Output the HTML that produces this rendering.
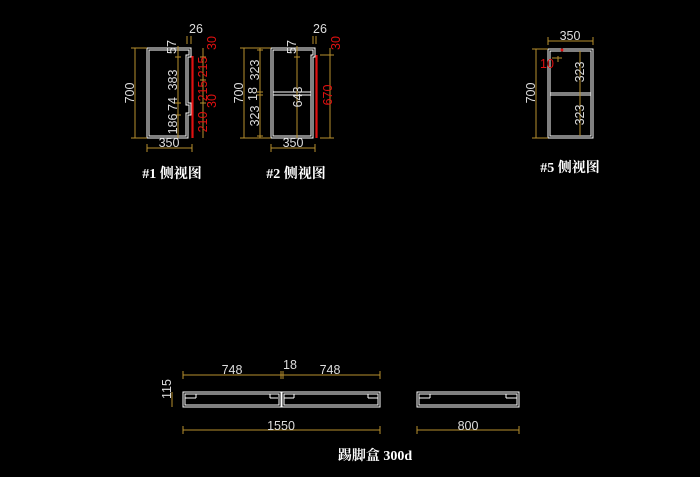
<!DOCTYPE html>
<html><head><meta charset="utf-8"><style>
html,body{margin:0;padding:0;background:#000;}
svg{display:block}
text{font-family:"Liberation Sans","Noto Sans CJK SC",sans-serif;}
.d{stroke:#b8902e;stroke-width:1;fill:none}
.w{stroke:#fff;stroke-width:1;fill:none}
.r{stroke:#e01010;stroke-width:1.2;fill:none}
.t{fill:#ddd;font-size:12.5px}
.rt{fill:#e01010;font-size:12.5px}
.ti{fill:#fff;font-size:14px;font-weight:bold;font-family:"Liberation Serif","Noto Serif CJK SC",serif}
</style></head><body>
<svg width="700" height="477" viewBox="0 0 700 477" xmlns="http://www.w3.org/2000/svg">
<!-- #1 -->
<g>
<path class="w" d="M147,48 H191 V57 H188 V103 H191 V115 H188 V138 H147 Z"/>
<path class="w" d="M149,50 H189 V55 H186 V105 H189 V113 H186 V136 H149 Z"/>
<line class="r" x1="193" y1="56" x2="193" y2="138"/>
<line class="r" x1="192" y1="56" x2="192" y2="138"/>
<line class="d" x1="135" y1="48" x2="135" y2="138"/><line class="d" x1="131" y1="48" x2="147" y2="48"/><line class="d" x1="131" y1="138" x2="147" y2="138"/>
<text class="t" transform="translate(134,93) rotate(-90)" text-anchor="middle">700</text>
<line class="d" x1="147" y1="148" x2="192" y2="148"/><line class="d" x1="147" y1="144" x2="147" y2="152"/><line class="d" x1="192" y1="144" x2="192" y2="152"/>
<text class="t" x="169" y="147" text-anchor="middle">350</text>
<line class="d" x1="178" y1="46" x2="178" y2="138"/>
<g class="d"><line x1="175" y1="57" x2="181" y2="57"/><line x1="175" y1="103" x2="181" y2="103"/><line x1="175" y1="115" x2="181" y2="115"/></g>
<text class="t" transform="translate(176,47) rotate(-90)" text-anchor="middle">57</text>
<text class="t" transform="translate(177,80) rotate(-90)" text-anchor="middle">383</text>
<text class="t" transform="translate(177,104) rotate(-90)" text-anchor="middle">74</text>
<text class="t" transform="translate(177,124) rotate(-90)" text-anchor="middle">186</text>
<line class="d" x1="203" y1="48" x2="203" y2="138"/>
<g class="d"><line x1="200" y1="80" x2="206" y2="80"/><line x1="200" y1="103" x2="206" y2="103"/><line x1="200" y1="57" x2="206" y2="57"/></g>
<text class="rt" transform="translate(207,67) rotate(-90)" text-anchor="middle">215</text>
<text class="rt" transform="translate(207,91) rotate(-90)" text-anchor="middle">215</text>
<text class="rt" transform="translate(207,122) rotate(-90)" text-anchor="middle">210</text>
<text class="rt" transform="translate(216,43) rotate(-90)" text-anchor="middle">30</text>
<text class="rt" transform="translate(216,101) rotate(-90)" text-anchor="middle">30</text>
<text class="t" x="196" y="33" text-anchor="middle">26</text>
<line class="d" x1="187" y1="36" x2="187" y2="44"/><line class="d" x1="191" y1="36" x2="191" y2="44"/>
<text class="ti" x="172" y="178" text-anchor="middle">#1 侧视图</text>
</g>
<!-- #2 -->
<g>
<path class="w" d="M271,48 H315 V57 H313 V138 H271 Z"/>
<path class="w" d="M273,50 H313 V55 H311 V136 H273 Z"/>
<line class="w" x1="273" y1="92" x2="311" y2="92"/><line class="w" x1="273" y1="95" x2="311" y2="95"/>
<line class="r" x1="317" y1="55" x2="317" y2="138"/><line class="r" x1="316" y1="55" x2="316" y2="138"/>
<line class="d" x1="244" y1="48" x2="244" y2="138"/><line class="d" x1="240" y1="48" x2="271" y2="48"/><line class="d" x1="240" y1="138" x2="271" y2="138"/>
<text class="t" transform="translate(243,93) rotate(-90)" text-anchor="middle">700</text>
<line class="d" x1="260" y1="48" x2="260" y2="138"/>
<g class="d"><line x1="257" y1="92" x2="263" y2="92"/><line x1="257" y1="95" x2="263" y2="95"/><line x1="257" y1="50" x2="263" y2="50"/><line x1="257" y1="136" x2="263" y2="136"/></g>
<text class="t" transform="translate(259,70) rotate(-90)" text-anchor="middle">323</text>
<text class="t" transform="translate(257,94) rotate(-90)" text-anchor="middle">18</text>
<text class="t" transform="translate(259,116) rotate(-90)" text-anchor="middle">323</text>
<line class="d" x1="297" y1="46" x2="297" y2="138"/><line class="d" x1="294" y1="57" x2="300" y2="57"/>
<text class="t" transform="translate(296,47) rotate(-90)" text-anchor="middle">57</text>
<text class="t" transform="translate(302,97) rotate(-90)" text-anchor="middle">643</text>
<line class="d" x1="330" y1="48" x2="330" y2="138"/><line class="d" x1="320" y1="55" x2="334" y2="55"/><line class="d" x1="320" y1="138" x2="334" y2="138"/>
<text class="rt" transform="translate(332,95) rotate(-90)" text-anchor="middle">670</text>
<text class="rt" transform="translate(340,43) rotate(-90)" text-anchor="middle">30</text>
<line class="d" x1="271" y1="148" x2="315" y2="148"/><line class="d" x1="271" y1="144" x2="271" y2="152"/><line class="d" x1="315" y1="144" x2="315" y2="152"/>
<text class="t" x="293" y="147" text-anchor="middle">350</text>
<text class="t" x="320" y="33" text-anchor="middle">26</text>
<line class="d" x1="313" y1="36" x2="313" y2="44"/><line class="d" x1="316" y1="36" x2="316" y2="44"/>
<text class="ti" x="296" y="178" text-anchor="middle">#2 侧视图</text>
</g>
<!-- #5 -->
<g>
<rect class="w" x="548" y="49" width="45" height="89"/>
<rect class="w" x="550" y="51" width="41" height="85"/>
<line class="w" x1="550" y1="93" x2="591" y2="93"/><line class="w" x1="550" y1="95" x2="591" y2="95"/>
<line class="d" x1="536" y1="49" x2="536" y2="138"/><line class="d" x1="532" y1="49" x2="548" y2="49"/><line class="d" x1="532" y1="138" x2="548" y2="138"/>
<text class="t" transform="translate(535,93) rotate(-90)" text-anchor="middle">700</text>
<line class="d" x1="548" y1="41" x2="593" y2="41"/><line class="d" x1="548" y1="37" x2="548" y2="45"/><line class="d" x1="593" y1="37" x2="593" y2="45"/>
<text class="t" x="570" y="40" text-anchor="middle">350</text>
<line class="d" x1="580" y1="51" x2="580" y2="136"/>
<text class="t" transform="translate(584,72) rotate(-90)" text-anchor="middle">323</text>
<text class="t" transform="translate(584,115) rotate(-90)" text-anchor="middle">323</text>
<text class="rt" x="540" y="68" font-size="11">10</text>
<path class="d" d="M552,58 H562 M558,56 V62"/>
<circle cx="562" cy="50" r="1.5" fill="#e01010"/>
<text class="ti" x="570" y="172" text-anchor="middle">#5 侧视图</text>
</g>
<!-- bottom -->
<g>
<rect class="w" x="183" y="392" width="98" height="15"/>
<rect class="w" x="185" y="394" width="94" height="11"/>
<rect class="w" x="282" y="392" width="98" height="15"/>
<rect class="w" x="284" y="394" width="94" height="11"/>
<rect class="w" x="417" y="392" width="102" height="15"/>
<rect class="w" x="419" y="394" width="98" height="11"/>
<path class="w" d="M185,398 H196 M196,394 V398 M278,398 H270 M270,394 V398 M284,398 H294 M294,394 V398 M378,398 H368 M368,394 V398 M419,398 H430 M430,394 V398 M517,398 H506 M506,394 V398"/>
<line class="d" x1="183" y1="375" x2="380" y2="375"/>
<g class="d"><line x1="183" y1="371" x2="183" y2="379"/><line x1="281" y1="371" x2="281" y2="379"/><line x1="283" y1="371" x2="283" y2="379"/><line x1="380" y1="371" x2="380" y2="379"/></g>
<text class="t" x="232" y="374" text-anchor="middle">748</text>
<text class="t" x="330" y="374" text-anchor="middle">748</text>
<text class="t" x="290" y="369" text-anchor="middle">18</text>
<line class="d" x1="172" y1="392" x2="172" y2="407"/>
<text class="t" transform="translate(171,389) rotate(-90)" text-anchor="middle">115</text>
<line class="d" x1="183" y1="430" x2="380" y2="430"/><line class="d" x1="183" y1="426" x2="183" y2="434"/><line class="d" x1="380" y1="426" x2="380" y2="434"/>
<text class="t" x="281" y="430" text-anchor="middle">1550</text>
<line class="d" x1="417" y1="430" x2="519" y2="430"/><line class="d" x1="417" y1="426" x2="417" y2="434"/><line class="d" x1="519" y1="426" x2="519" y2="434"/>
<text class="t" x="468" y="430" text-anchor="middle">800</text>
<text class="ti" x="375" y="460" text-anchor="middle">踢脚盒 300d</text>
</g>
</svg>
</body></html>
